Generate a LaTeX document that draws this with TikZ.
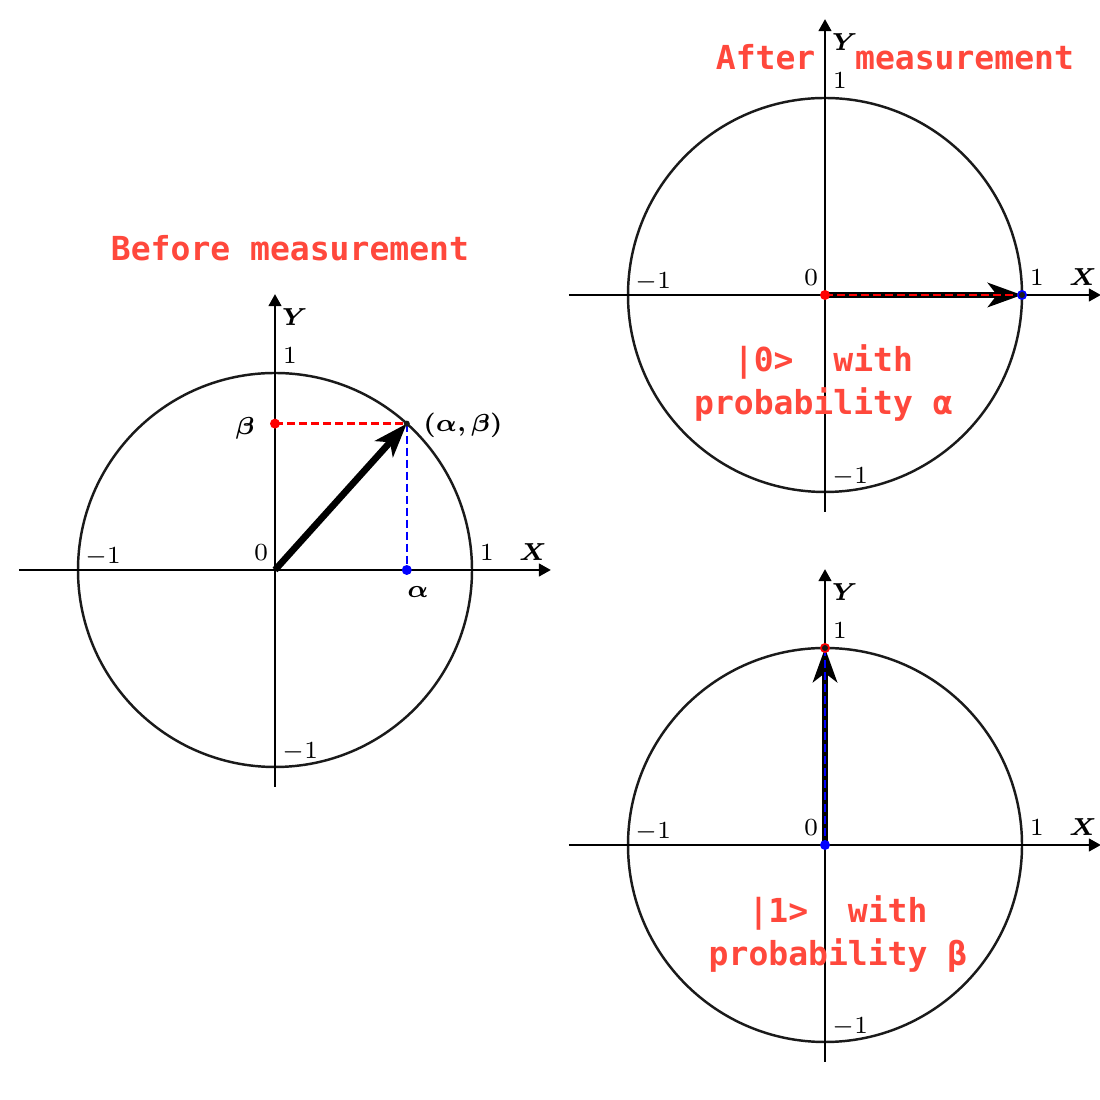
\documentclass[tikz,border=0pt]{standalone}
\usepackage{bm}
\usepackage{fontspec}
\usetikzlibrary{arrows.meta}
\newfontfamily\notefont{DejaVu Sans Mono}
\definecolor{noteCol}{RGB}{255,72,60}
\definecolor{ringCol}{RGB}{26,26,26}
\definecolor{dotRed}{RGB}{255,0,0}
\definecolor{dotBlue}{RGB}{0,0,255}
\tikzset{
  axisline/.style={line width=0.45pt,-{Triangle[length=1.2mm,width=1.3mm]}},
  ring/.style={line width=0.7pt,draw=ringCol},
  vec/.style={line width=1.9pt,-{Stealth[length=3.4mm,width=2.4mm,inset=0.9mm]}},
  proj/.style={line width=0.65pt,dash pattern=on 0.8mm off 0.4mm},
  ticklab/.style={font=\fontsize{6.7}{8}\selectfont,inner sep=0pt},
  note/.style={font=\fontsize{9.4}{12.2}\selectfont\notefont\bfseries,
               text=noteCol,align=center,inner sep=0pt},
}
\begin{document}
\begin{tikzpicture}
  \useasboundingbox (0,0) rectangle (11,11);
  % state before measurement
  \begin{scope}[shift={(2.75,5.30)},x=1.97cm,y=1.97cm]
    \coordinate (oL) at (0,0);
    \coordinate (pL) at (0.669,0.743);
    \coordinate (aL) at (0.669,0);
    \coordinate (bL) at (0,0.743);
    \coordinate (xsL) at (-1.3,0);
    \coordinate (xeL) at (1.4,0);
    \coordinate (ysL) at (0,-1.1);
    \coordinate (yeL) at (0,1.4);
    \draw[ring] (oL) circle[radius=1];
    \draw[axisline] (xsL) -- (xeL);
    \draw[axisline] (ysL) -- (yeL);
    \draw[vec] (oL) -- (pL);
    \draw[proj,draw=dotRed] (bL) -- (pL);
    \draw[proj,draw=dotBlue] (pL) -- (aL);
    \fill[dotRed] (bL) circle[radius=0.5mm];
    \fill[dotBlue] (aL) circle[radius=0.5mm];
    \fill[ringCol] (pL) circle[radius=0.3mm];
    \node[ticklab] (zeroL) at (-0.071,0.086) {$0$};
    \node[ticklab] (onexL) at (1.076,0.086) {$1$};
    \node[ticklab] (labxL) at (1.31,0.091) {$\bm{X}$};
    \node[ticklab] (negxL) at (-0.873,0.066) {$-1$};
    \node[ticklab] (oneyL) at (0.076,1.086) {$1$};
    \node[ticklab] (labyL) at (0.10,1.284) {$\bm{Y}$};
    \node[ticklab] (negyL) at (0.127,-0.924) {$-1$};
    \node[ticklab] (betaL) at (-0.152,0.72) {$\bm{\beta}$};
    \node[ticklab] (pairL) at (0.954,0.736) {$\bm{(\alpha,\beta)}$};
    \node[ticklab] (alphaL) at (0.726,-0.112) {$\bm{\alpha}$};
    \node[note] (before) at (0.076,1.635) {Before measurement};
  \end{scope}
  % outcome |0>
  \begin{scope}[shift={(8.25,8.05)},x=1.97cm,y=1.97cm]
    \coordinate (oA) at (0,0);
    \coordinate (pA) at (1,0);
    \coordinate (xsA) at (-1.3,0);
    \coordinate (xeA) at (1.4,0);
    \coordinate (ysA) at (0,-1.1);
    \coordinate (yeA) at (0,1.4);
    \draw[ring] (oA) circle[radius=1];
    \draw[axisline] (xsA) -- (xeA);
    \draw[axisline] (ysA) -- (yeA);
    \draw[vec] (oA) -- (pA);
    \draw[proj,draw=dotRed] (oA) -- (pA);
    \fill[dotRed] (oA) circle[radius=0.5mm];
    \fill[dotBlue] (pA) circle[radius=0.5mm];
    \fill[ringCol] (pA) circle[radius=0.3mm];
    \node[ticklab] (zeroA) at (-0.071,0.086) {$0$};
    \node[ticklab] (onexA) at (1.076,0.086) {$1$};
    \node[ticklab] (labxA) at (1.31,0.091) {$\bm{X}$};
    \node[ticklab] (negxA) at (-0.873,0.066) {$-1$};
    \node[ticklab] (oneyA) at (0.076,1.086) {$1$};
    \node[ticklab] (labyA) at (0.10,1.284) {$\bm{Y}$};
    \node[ticklab] (negyA) at (0.127,-0.924) {$-1$};
    \node[note] (after) at (0.355,1.208) {After\ \ measurement};
    \node[note] (zeroNote) at (-0.008,-0.449) {|0>\ \ with\\probability α};
  \end{scope}
  % outcome |1>
  \begin{scope}[shift={(8.25,2.55)},x=1.97cm,y=1.97cm]
    \coordinate (oB) at (0,0);
    \coordinate (pB) at (0,1);
    \coordinate (xsB) at (-1.3,0);
    \coordinate (xeB) at (1.4,0);
    \coordinate (ysB) at (0,-1.1);
    \coordinate (yeB) at (0,1.4);
    \draw[ring] (oB) circle[radius=1];
    \draw[axisline] (xsB) -- (xeB);
    \draw[axisline] (ysB) -- (yeB);
    \draw[vec] (oB) -- (pB);
    \draw[proj,draw=dotBlue] (pB) -- (oB);
    \fill[dotRed] (pB) circle[radius=0.5mm];
    \fill[dotBlue] (oB) circle[radius=0.5mm];
    \fill[ringCol] (pB) circle[radius=0.3mm];
    \node[ticklab] (zeroB) at (-0.071,0.086) {$0$};
    \node[ticklab] (onexB) at (1.076,0.086) {$1$};
    \node[ticklab] (labxB) at (1.31,0.091) {$\bm{X}$};
    \node[ticklab] (negxB) at (-0.873,0.066) {$-1$};
    \node[ticklab] (oneyB) at (0.076,1.086) {$1$};
    \node[ticklab] (labyB) at (0.10,1.284) {$\bm{Y}$};
    \node[ticklab] (negyB) at (0.127,-0.924) {$-1$};
    \node[note] (oneNote) at (0.066,-0.452) {|1>\ \ with\\probability β};
  \end{scope}
\end{tikzpicture}
\end{document}
